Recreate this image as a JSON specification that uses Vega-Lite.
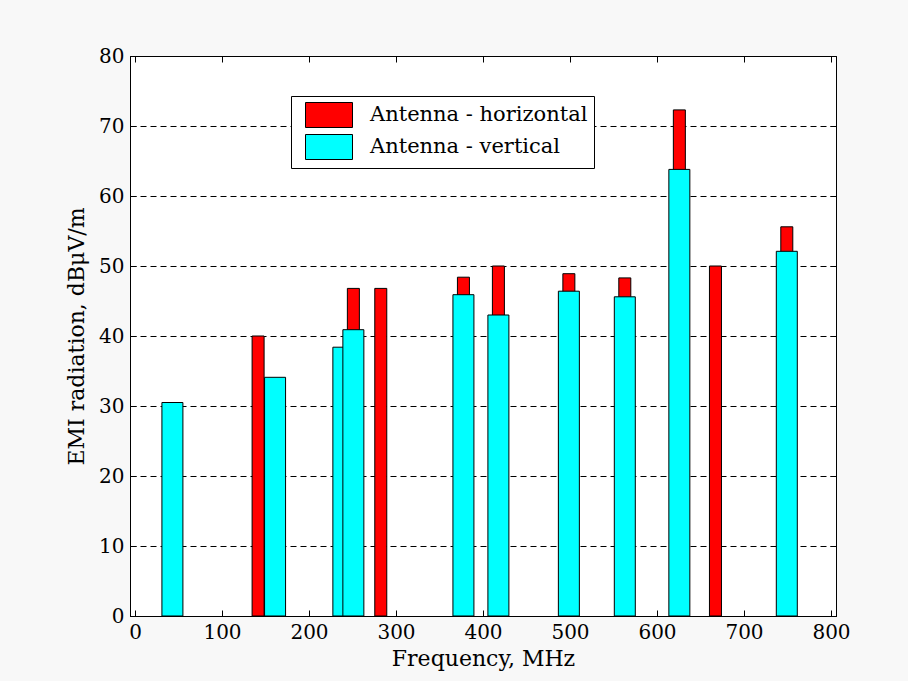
{
  "$schema": "https://vega.github.io/schema/vega-lite/v6.json",
  "width": 706,
  "height": 560,
  "autosize": {"type": "none"},
  "padding": {"left": 130, "top": 56, "right": 72, "bottom": 65},
  "background": "#f8f8f8",
  "config": {
    "view": {"stroke": "black", "strokeWidth": 1, "fill": "white"},
    "font": "DejaVu Serif",
    "axis": {"labelFont": "DejaVu Serif", "titleFont": "DejaVu Serif", "labelFontSize": 20, "titleFontSize": 22, "titleFontWeight": "normal", "labelColor": "black", "titleColor": "black", "domainColor": "black", "tickColor": "black", "tickSize": -6, "labelPadding": 12}
  },
  "data": {
    "values": [
      {"freq": 43, "value": 30.5, "antenna": "Antenna - vertical"},
      {"freq": 141.5, "value": 40.0, "antenna": "Antenna - horizontal"},
      {"freq": 161, "value": 34.1, "antenna": "Antenna - vertical"},
      {"freq": 239.5, "value": 38.4, "antenna": "Antenna - vertical"},
      {"freq": 251, "value": 46.8, "antenna": "Antenna - horizontal"},
      {"freq": 251, "value": 40.9, "antenna": "Antenna - vertical"},
      {"freq": 282.5, "value": 46.8, "antenna": "Antenna - horizontal"},
      {"freq": 377.5, "value": 48.4, "antenna": "Antenna - horizontal"},
      {"freq": 377.5, "value": 45.9, "antenna": "Antenna - vertical"},
      {"freq": 417.7, "value": 50.0, "antenna": "Antenna - horizontal"},
      {"freq": 417.7, "value": 43.0, "antenna": "Antenna - vertical"},
      {"freq": 498.7, "value": 48.9, "antenna": "Antenna - horizontal"},
      {"freq": 498.7, "value": 46.4, "antenna": "Antenna - vertical"},
      {"freq": 563, "value": 48.3, "antenna": "Antenna - horizontal"},
      {"freq": 563, "value": 45.6, "antenna": "Antenna - vertical"},
      {"freq": 625.7, "value": 72.3, "antenna": "Antenna - horizontal"},
      {"freq": 625.7, "value": 63.8, "antenna": "Antenna - vertical"},
      {"freq": 667.2, "value": 50.0, "antenna": "Antenna - horizontal"},
      {"freq": 749.2, "value": 55.6, "antenna": "Antenna - horizontal"},
      {"freq": 749.2, "value": 52.1, "antenna": "Antenna - vertical"}
    ]
  },
  "encoding": {
    "color": {"field": "antenna", "type": "nominal",
      "scale": {"domain": ["Antenna - horizontal", "Antenna - vertical"], "range": ["#ff0000", "#00ffff"]},
      "legend": {"title": null, "orient": "none", "legendX": 161, "legendY": 40, "direction": "vertical",
        "fillColor": "white", "strokeColor": "black", "padding": 6,
        "symbolType": "M-0.36,-1H3.4V1H-0.36Z", "symbolSize": 625, "symbolStrokeColor": "black", "symbolStrokeWidth": 1, "symbolOpacity": 1,
        "labelFont": "DejaVu Serif", "labelFontSize": 21, "labelColor": "black", "labelOffset": 47, "rowPadding": 2, "labelLimit": 400,
        "labelExpr": "datum.label + '\u00a0\u00a0\u00a0'"}}
  },
  "layer": [
    {"transform": [{"filter": "datum.antenna === 'Antenna - horizontal'"}],
     "mark": {"type": "bar", "width": 12, "stroke": "black", "strokeWidth": 1, "opacity": 1},
     "encoding": {
       "x": {"field": "freq", "type": "quantitative", "scale": {"domain": [0, 800], "nice": false, "zero": false},
         "axis": {"values": [0,100,200,300,400,500,600,700,800], "grid": false, "title": "Frequency, MHz", "titlePadding": 6, "labelPadding": 12}},
       "y": {"field": "value", "type": "quantitative", "scale": {"domain": [0, 80], "nice": false},
         "axis": {"values": [0,10,20,30,40,50,60,70,80], "grid": true, "gridColor": "black", "gridDash": [6, 4], "gridWidth": 1, "gridOpacity": 1, "title": "EMI radiation, dBμV/m", "titlePadding": 10, "labelPadding": 12}}
     }},
    {"transform": [{"filter": "datum.antenna === 'Antenna - vertical'"}],
     "mark": {"type": "bar", "width": 21, "stroke": "black", "strokeWidth": 1, "opacity": 1},
     "encoding": {
       "x": {"field": "freq", "type": "quantitative", "scale": {"domain": [0, 800], "nice": false, "zero": false},
         "axis": {"orient": "top", "values": [0,100,200,300,400,500,600,700,800], "grid": false, "labels": false, "title": null, "domain": false, "tickSize": -6}},
       "y": {"field": "value", "type": "quantitative", "scale": {"domain": [0, 80], "nice": false},
         "axis": {"orient": "right", "values": [0,10,20,30,40,50,60,70,80], "grid": false, "labels": false, "title": null, "domain": false, "tickSize": -6}}
     }}
  ],
  "resolve": {"axis": {"x": "independent", "y": "independent"}}
}
